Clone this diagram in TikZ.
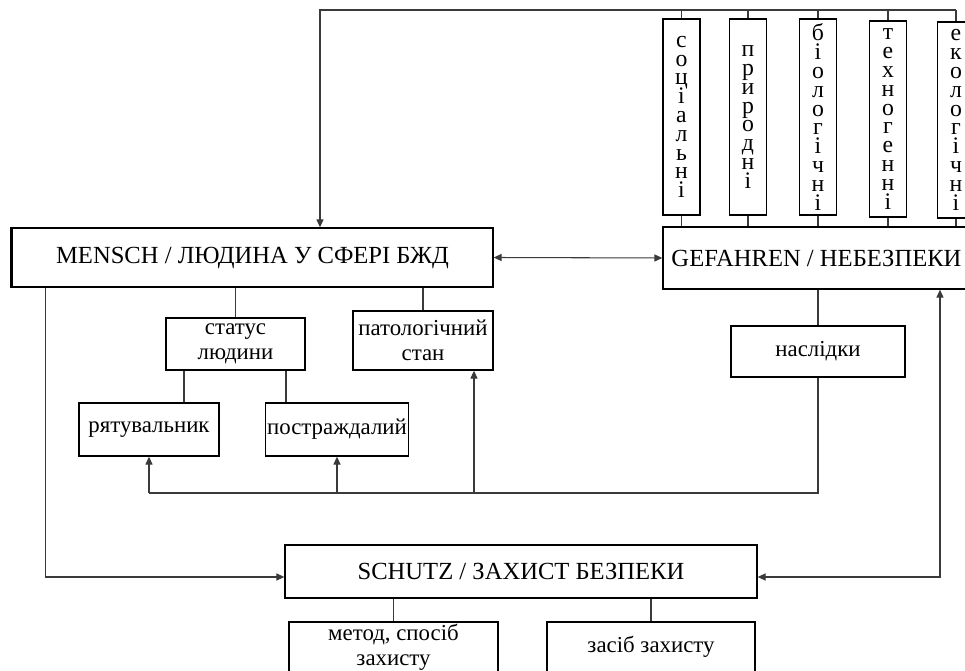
\documentclass[tikz,border=0pt]{standalone}
\usepackage{fontspec}
\setmainfont{Liberation Serif}
\usetikzlibrary{arrows.meta,positioning}
\definecolor{bzline}{HTML}{3A3A3A}
\newcommand\bzstackfont{\fontsize{13.5}{10.7}\selectfont\lineskiplimit=-20pt\relax}

\begin{document}
\begin{tikzpicture}[x=0.02cm,y=-0.02cm,
  box/.style={draw=black,line width=0.8pt,fill=white,inner sep=1pt,align=center,
    font=\fontsize{13}{14}\selectfont},
  bigbox/.style={box,font=\fontsize{14}{16}\selectfont},
  stack/.style={box,minimum width=0.74cm,minimum height=3.92cm,font=\bzstackfont},
  link/.style={draw=bzline,line width=0.6pt},
  arr/.style={link,-{Triangle[length=4.5pt,width=4pt]}},
  arrs/.style={link,{Triangle[length=4.5pt,width=4pt]}-{Triangle[length=4.5pt,width=4pt]}}]

  \path[use as bounding box,clip] (0,0) rectangle (965,671);

  % ---- Main blocks ------------------------------------------
  \node[bigbox,minimum width=9.62cm,minimum height=1.18cm] (mensch) at (252.5,257.5)
    {MENSCH / ЛЮДИНА У СФЕРІ БЖД};
  \draw[line width=1.6pt] (mensch.south west) -- (mensch.north west);
  \node[bigbox,minimum width=6.14cm,minimum height=1.24cm] (gefahren) at (816.5,258)
    {GEFAHREN / НЕБЕЗПЕКИ};
  \node[box,font=\fontsize{14}{15}\selectfont,minimum width=9.44cm,minimum height=1.06cm]
    (schutz) at (521,571.5) {SCHUTZ / ЗАХИСТ БЕЗПЕКИ};

  % ---- Kinds of hazards -------------------------------------
  \node[stack] (soc)  at (681.5,117) {с\\о\\ц\\і\\а\\л\\ь\\н\\і};
  \node[stack] (pryr) at (748,117)   {п\\р\\и\\р\\о\\д\\н\\і};
  \node[stack] (bio)  at (818,117)   {б\\і\\о\\л\\о\\г\\і\\ч\\н\\і};
  \node[stack] (tech) at (888,119)   {т\\е\\х\\н\\о\\г\\е\\н\\н\\і};
  \node[stack] (eco)  at (956,120)   {е\\к\\о\\л\\о\\г\\і\\ч\\н\\і};

  % ---- Person ------------------------------------------------
  \node[box,minimum width=2.78cm,minimum height=1.04cm] (status) at (235.5,344)
    {статус\\людини};
  \node[box,minimum width=2.8cm,minimum height=1.18cm] (patho) at (423,340.5)
    {патологічний\\стан};
  \node[box,minimum width=2.8cm,minimum height=1.06cm] (rescuer) at (149,429.5)
    {рятувальник};
  \node[box,minimum width=2.8cm,minimum height=1.06cm] (victim) at (337,429.5)
    {постраждалий};
  \node[box,minimum width=3.48cm,minimum height=1.02cm] (nasl) at (818,351.5)
    {наслідки};

  % ---- Protection --------------------------------------------
  \node[box,minimum width=4.18cm,minimum height=1.0cm] (method) at (393.5,647)
    {метод, спосіб\\захисту};
  \node[box,minimum width=4.16cm,minimum height=1.0cm] (means) at (651,647)
    {засіб захисту};

  % ---- Connectors --------------------------------------------
  \coordinate (topL) at (320,10);
  \draw[arr] (eco.north |- topL) -- (topL) -- (topL |- mensch.north);
  \foreach \h in {soc,pryr,bio,tech,eco} {
    \draw[link] (\h.north) -- (\h.north |- topL);
    \draw[link] (\h.south) -- (\h.south |- gefahren.north);
  }
  \draw[arrs] (mensch.east) -- (gefahren.west);

  \draw[link] (status.north) -- (status.north |- mensch.south);
  \draw[link] (patho.north) -- (patho.north |- mensch.south);
  \draw[link] ([xshift=-1.03cm]status.south) -- ([xshift=-1.03cm]status.south |- rescuer.north);
  \draw[link] ([xshift=1.01cm]status.south) -- ([xshift=1.01cm]status.south |- victim.north);
  \draw[link] (nasl.north) -- (nasl.north |- gefahren.south);

  % consequences back to the person
  \coordinate (fb) at (818,493);
  \coordinate (pathoin) at ([xshift=1.02cm]patho.south);
  \draw[link] (nasl.south) -- (fb) -- (fb -| rescuer.south);
  \draw[arr] (fb -| rescuer.south) -- (rescuer.south);
  \draw[arr] (fb -| victim.south) -- (victim.south);
  \draw[arr] (fb -| pathoin) -- (pathoin);

  % to protection
  \coordinate (mout) at ([xshift=0.68cm]mensch.south west);
  \coordinate (gout) at ([xshift=2.47cm]gefahren.south);
  \coordinate (sin) at ([yshift=-0.11cm]schutz.west);
  \coordinate (sout) at ([yshift=-0.11cm]schutz.east);
  \draw[arr] (mout) |- (sin);
  \draw[arrs] (gout) |- (sout);
  \draw[link] (method.north) -- (method.north |- schutz.south);
  \draw[link] (means.north) -- (means.north |- schutz.south);

\end{tikzpicture}
\end{document}
